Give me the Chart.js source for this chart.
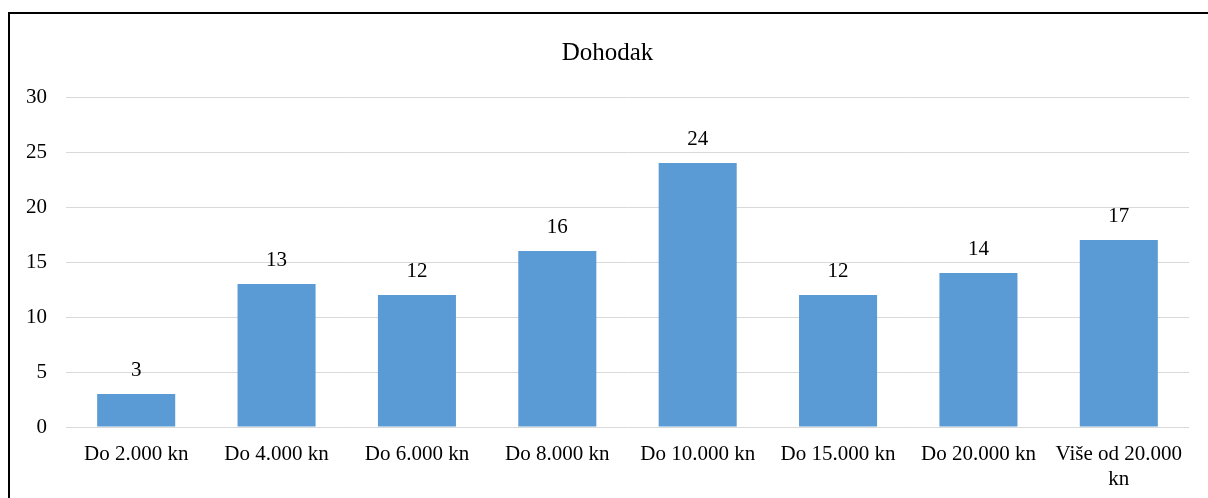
<!DOCTYPE html>
<html>
<head>
<meta charset="utf-8">
<script src="https://cdn.jsdelivr.net/npm/chart.js@4.4.1/dist/chart.umd.min.js"></script>
<style>
	html, body { margin: 0; padding: 0; background: #fff; }
	.frame {
		position: absolute;
		left: 8px;
		top: 12px;
		width: 1198px;
		height: 484px;
		border-top: 2px solid #000;
		border-left: 2px solid #000;
	}
	canvas { display: block; }
</style>
</head>
<body>
<div class="frame"><canvas id="income" width="1198" height="484"></canvas></div>
<script>
	// kategorije dohotka
	const categories = [
		'Do 2.000 kn',
		'Do 4.000 kn',
		'Do 6.000 kn',
		'Do 8.000 kn',
		'Do 10.000 kn',
		'Do 15.000 kn',
		'Do 20.000 kn',
		['Više od 20.000', 'kn'],
	];
	const counts = [3, 13, 12, 16, 24, 12, 14, 17];
	const yTicks = [0, 5, 10, 15, 20, 25, 30];

	const fontFamily = '"Liberation Serif", "Times New Roman", serif';
	const barColor = '#5B9BD5';

	// oznake vrijednosti iznad stupaca
	const valueLabels = {
		id: 'valueLabels',
		afterDatasetsDraw(chart) {
			const ctx = chart.ctx;
			ctx.save();
			ctx.font = `21px ${fontFamily}`;
			ctx.fillStyle = '#000';
			ctx.textAlign = 'center';
			ctx.textBaseline = 'middle';
			chart.getDatasetMeta(0).data.forEach((bar, i) => {
				ctx.fillText(String(counts[i]), bar.x, bar.y - 24);
			});
			ctx.restore();
		},
	};

	new Chart(document.getElementById('income'), {
		type: 'bar',
		data: {
			labels: categories,
			datasets: [
				{
					label: 'Dohodak',
					data: counts,
					backgroundColor: barColor,
					borderWidth: 0,
					categoryPercentage: 1,
					barPercentage: 0.556,
				},
			],
		},
		options: {
			responsive: false,
			animation: false,
			layout: {
				autoPadding: false,
				padding: { left: 16, right: 19, top: 8, bottom: 7 },
			},
			plugins: {
				legend: { display: false },
				tooltip: { enabled: false },
				title: {
					display: true,
					text: 'Dohodak',
					color: '#000',
					font: { family: fontFamily, size: 25, weight: 'normal', lineHeight: 1.2 },
					padding: { top: 16, bottom: 29 },
				},
			},
			scales: {
				x: {
					grid: { display: false, drawTicks: false },
					border: { display: false },
					ticks: {
						color: '#000',
						padding: 15,
						maxRotation: 0,
						autoSkip: false,
						font: { family: fontFamily, size: 21, lineHeight: 1.2 },
					},
					afterFit(axis) {
						axis.height = 64;
					},
				},
				y: {
					min: 0,
					max: 30,
					afterBuildTicks(axis) {
						axis.ticks = yTicks.map((v) => ({ value: v }));
					},
					afterFit(axis) {
						axis.width = 40;
					},
					grid: { color: '#d9d9d9', lineWidth: 1, drawTicks: false },
					border: { display: false },
					ticks: {
						color: '#000',
						padding: 19,
						font: { family: fontFamily, size: 21 },
					},
				},
			},
		},
		plugins: [valueLabels],
	});
</script>
</body>
</html>
